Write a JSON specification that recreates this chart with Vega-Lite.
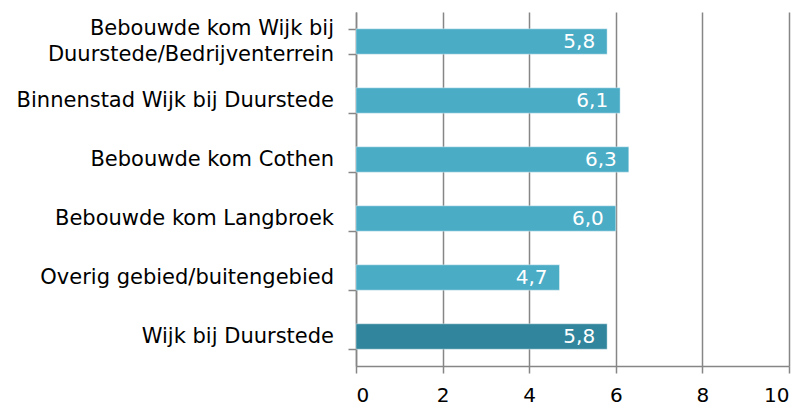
{
  "$schema": "https://vega.github.io/schema/vega-lite/v6.json",
  "width": 433,
  "height": 354,
  "autosize": "none",
  "padding": {"left": 356, "top": 12, "right": 14, "bottom": 39},
  "config": {
    "view": {"stroke": null},
    "font": "DejaVu Sans"
  },
  "data": {"values": [
    {"gebied": "Bebouwde kom Wijk bij|Duurstede/Bedrijventerrein", "score": 5.8, "type": "deel"},
    {"gebied": "Binnenstad Wijk bij Duurstede", "score": 6.1, "type": "deel"},
    {"gebied": "Bebouwde kom Cothen", "score": 6.3, "type": "deel"},
    {"gebied": "Bebouwde kom Langbroek", "score": 6.0, "type": "deel"},
    {"gebied": "Overig gebied/buitengebied", "score": 4.7, "type": "deel"},
    {"gebied": "Wijk bij Duurstede", "score": 5.8, "type": "totaal"}
  ]},
  "encoding": {
    "y": {
      "field": "gebied", "type": "nominal", "sort": null,
      "scale": {"paddingInner": 0.57, "paddingOuter": 0.285},
      "axis": {
        "title": null, "labels": false,
        "tickSize": 8, "tickColor": "#868686", "tickWidth": 1.5,
        "domainColor": "#868686", "domainWidth": 1.5, "bandPosition": 0, "tickBand": "extent"
      }
    }
  },
  "layer": [
    {
      "mark": {"type": "bar", "stroke": "#ffffff", "strokeOpacity": 0.4, "strokeWidth": 1},
      "encoding": {
        "x": {
          "field": "score", "type": "quantitative",
          "scale": {"domain": [0, 10]},
          "axis": {
            "title": null, "values": [0, 2, 4, 6, 8, 10], "grid": true,
            "gridColor": "#868686", "gridWidth": 1.5,
            "labelFontSize": 20, "labelColor": "#000000", "labelPadding": 12,
            "tickSize": 7, "tickColor": "#868686", "tickWidth": 1.5,
            "domainColor": "#868686", "domainWidth": 1.5
          }
        },
        "color": {
          "field": "type", "type": "nominal",
          "scale": {"domain": ["deel", "totaal"], "range": ["#4BACC6", "#31859C"]},
          "legend": null
        }
      }
    },
    {
      "mark": {"type": "text", "align": "right", "dx": -12, "color": "#ffffff", "fontSize": 20, "baseline": "middle",
        "text": {"expr": "replace(format(datum.score, '.1f'), '.', ',')"}},
      "encoding": {
        "x": {"field": "score", "type": "quantitative"}
      }
    },
    {
      "mark": {"type": "text", "align": "right", "dx": -22, "color": "#000000", "fontSize": 21, "baseline": "middle", "lineHeight": 26,
        "text": {"expr": "split(datum.gebied, '|')"},
        "dy": {"expr": "indexof(datum.gebied, '|') >= 0 ? -13 : 0"}},
      "encoding": {
        "x": {"datum": 0, "type": "quantitative"}
      }
    }
  ]
}
